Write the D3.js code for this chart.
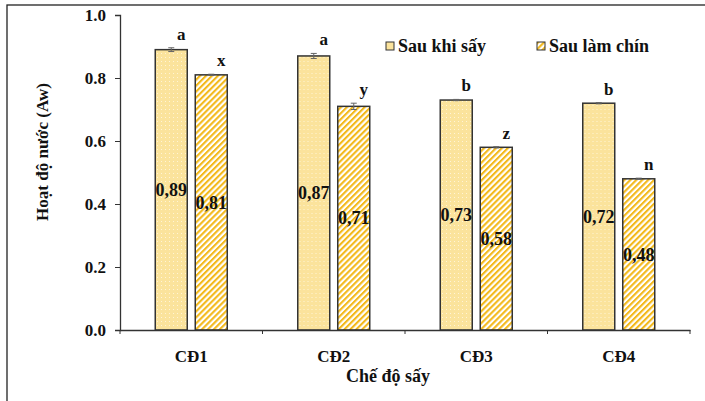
<!DOCTYPE html>
<html>
<head>
<meta charset="utf-8">
<script src="https://cdn.jsdelivr.net/npm/d3@7"></script>
<style>
  body { margin: 0; background: #fff; }
  svg text { font-family: "Liberation Serif", "Times New Roman", serif; font-weight: bold; fill: #111; }
</style>
</head>
<body>
<div id="chart"></div>
<script>
const categories = ["CĐ1", "CĐ2", "CĐ3", "CĐ4"];
const seriesNames = ["Sau khi sấy", "Sau làm chín"];
const afterDrying = [0.89, 0.87, 0.73, 0.72];
const afterRipening = [0.81, 0.71, 0.58, 0.48];
const errDrying = [0.006, 0.008, 0.002, 0.002];
const errRipening = [0.002, 0.010, 0.002, 0.002];
const lettersDrying = ["a", "a", "b", "b"];
const lettersRipening = ["x", "y", "z", "n"];
const yTicks = [0, 0.2, 0.4, 0.6, 0.8, 1.0];

const width = 705, height = 401;
const svg = d3.select("#chart").append("svg")
    .attr("width", width)
    .attr("height", height);

// patterns for the two series
const defs = svg.append("defs");
const dots = defs.append("pattern")
    .attr("id", "dots")
    .attr("patternUnits", "userSpaceOnUse")
    .attr("width", 4).attr("height", 4);
dots.append("rect").attr("width", 4).attr("height", 4).attr("fill", "#fbe39c");
dots.append("rect").attr("x", 1).attr("y", 1).attr("width", 1).attr("height", 1).attr("fill", "#fff4d6");

const hatch = defs.append("pattern")
    .attr("id", "hatch")
    .attr("patternUnits", "userSpaceOnUse")
    .attr("width", 4.2).attr("height", 4.2)
    .attr("patternTransform", "rotate(45)");
hatch.append("rect").attr("width", 4.2).attr("height", 4.2).attr("fill", "#fff");
hatch.append("rect").attr("width", 2.1).attr("height", 4.2).attr("fill", "#f3b91c");

const fills = ["url(#dots)", "url(#hatch)"];

// outer frame
svg.append("rect")
    .attr("x", 7).attr("y", 5)
    .attr("width", 720).attr("height", 420)
    .attr("fill", "none")
    .attr("stroke", "#222")
    .attr("stroke-width", 1.3);

const x = d3.scaleBand().domain(categories).range([120, 690]).padding(0);
const inner = d3.scaleBand().domain(seriesNames)
    .range([(x.bandwidth() - 72) / 2, (x.bandwidth() + 72) / 2])
    .paddingInner(0.2);
const y = d3.scaleLinear().domain([0, 1]).range([330, 15]);

const rows = categories.map((c, i) => ({
    cat: c,
    bars: [
        { s: seriesNames[0], v: afterDrying[i], e: errDrying[i], l: lettersDrying[i], k: 0 },
        { s: seriesNames[1], v: afterRipening[i], e: errRipening[i], l: lettersRipening[i], k: 1 }
    ]
}));

const groups = svg.append("g").selectAll("g")
    .data(rows).enter().append("g")
    .attr("transform", d => `translate(${x(d.cat)},0)`);

const bar = groups.selectAll("g.bar").data(d => d.bars).enter().append("g").attr("class", "bar");

bar.append("rect")
    .attr("x", d => inner(d.s))
    .attr("y", d => y(d.v))
    .attr("width", inner.bandwidth())
    .attr("height", d => y(0) - y(d.v))
    .attr("fill", d => fills[d.k])
    .attr("stroke", "#333")
    .attr("stroke-width", 1.5);

// error bars
const cx = d => inner(d.s) + inner.bandwidth() / 2;
bar.append("line")
    .attr("x1", cx).attr("x2", cx)
    .attr("y1", d => y(d.v + d.e)).attr("y2", d => y(d.v - d.e))
    .attr("stroke", "#666").attr("stroke-width", 1);
bar.append("line")
    .attr("x1", d => cx(d) - 3).attr("x2", d => cx(d) + 3)
    .attr("y1", d => y(d.v + d.e)).attr("y2", d => y(d.v + d.e))
    .attr("stroke", "#666").attr("stroke-width", 1);
bar.append("line")
    .attr("x1", d => cx(d) - 3).attr("x2", d => cx(d) + 3)
    .attr("y1", d => y(d.v - d.e)).attr("y2", d => y(d.v - d.e))
    .attr("stroke", "#666").attr("stroke-width", 1);

// significance letters
bar.append("text")
    .attr("x", d => cx(d) + 10)
    .attr("y", d => y(d.v + d.e) - 8)
    .attr("text-anchor", "middle")
    .style("font-size", "17px")
    .text(d => d.l);

// value labels
bar.append("text")
    .attr("x", cx)
    .attr("y", d => (y(d.v) + y(0)) / 2)
    .attr("dy", "0.35em")
    .attr("text-anchor", "middle")
    .style("font-size", "18px")
    .text(d => d3.format(".2f")(d.v).replace(".", ","));

// axes
const yAxis = svg.append("g")
    .attr("transform", "translate(120,0)")
    .call(d3.axisLeft(y).tickValues(yTicks).tickFormat(d3.format(".1f")).tickSize(5).tickPadding(9));
yAxis.selectAll("text").style("font-size", "17px");

const xAxis = svg.append("g")
    .attr("transform", "translate(0,330)")
    .call(d3.axisBottom(x).tickSize(0).tickPadding(20));
xAxis.selectAll("text").style("font-size", "17px");
xAxis.selectAll(".tick line").remove();
xAxis.selectAll(".bound")
    .data(categories.concat(["end"]))
    .enter().append("line")
    .attr("x1", (d, i) => 120 + i * x.step()).attr("x2", (d, i) => 120 + i * x.step())
    .attr("y1", 0).attr("y2", 4)
    .attr("stroke", "#333");

svg.selectAll(".domain").attr("stroke", "#333").attr("stroke-width", 1.3);
svg.selectAll(".tick line").attr("stroke", "#333");

// axis titles
svg.append("text")
    .attr("x", 388).attr("y", 382)
    .attr("text-anchor", "middle")
    .style("font-size", "18px")
    .text("Chế độ sấy");

svg.append("text")
    .attr("transform", "translate(48,152) rotate(-90)")
    .attr("text-anchor", "middle")
    .style("font-size", "17px")
    .text("Hoạt độ nước (Aw)");

// legend
const legendX = [386, 537];
const legend = svg.append("g").selectAll("g")
    .data(seriesNames).enter().append("g")
    .attr("transform", (d, i) => `translate(${legendX[i]},42)`);
legend.append("rect")
    .attr("width", 8).attr("height", 8)
    .attr("fill", (d, i) => i === 0 ? "#fbe39c" : "url(#hatch)")
    .attr("stroke", "#333").attr("stroke-width", 1);
legend.append("text")
    .attr("x", 12).attr("y", 10)
    .style("font-size", "18px")
    .text(d => d);
</script>
</body>
</html>
